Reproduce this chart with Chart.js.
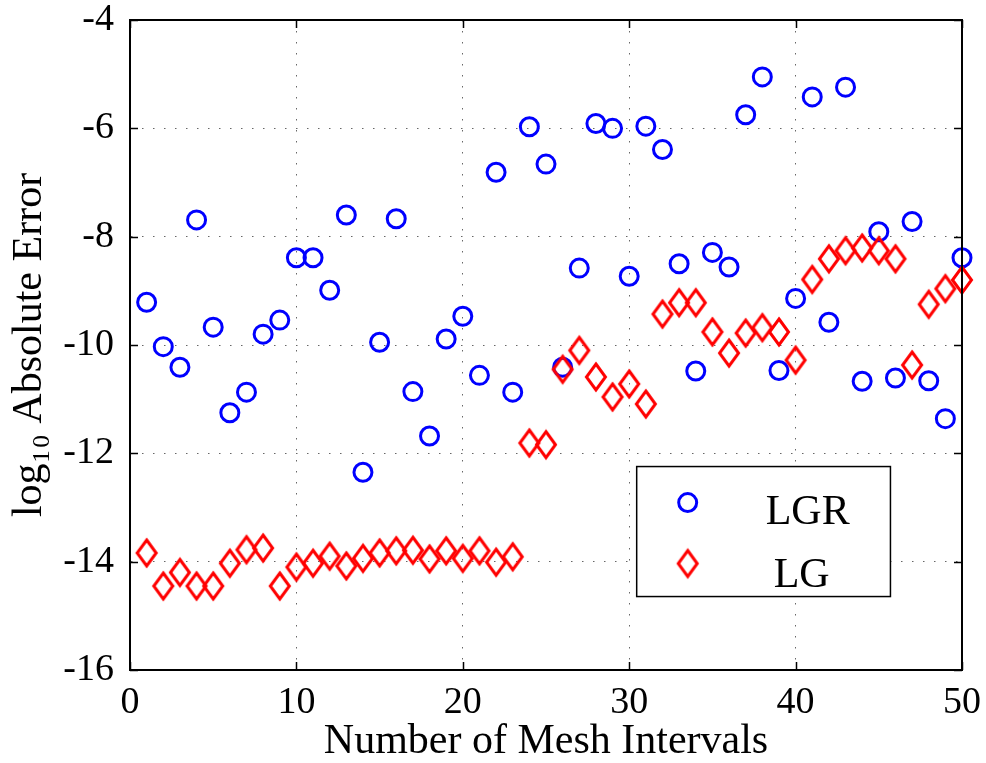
<!DOCTYPE html>
<html>
<head>
<meta charset="utf-8">
<script src="https://cdn.jsdelivr.net/npm/chart.js@4.4.1/dist/chart.umd.min.js"></script>
<style>
  html, body { margin: 0; padding: 0; background: #fff; }
  #wrap { width: 986px; height: 763px; }
</style>
</head>
<body>
<div id="wrap"><canvas id="chart" width="986" height="763"></canvas></div>
<script>
// ─── Data ─────────────────────────────────────────────────────────────────────

const meshIntervals = [
   1,  2,  3,  4,  5,  6,  7,  8,  9, 10,
  11, 12, 13, 14, 15, 16, 17, 18, 19, 20,
  21, 22, 23, 24, 25, 26, 27, 28, 29, 30,
  31, 32, 33, 34, 35, 36, 37, 38, 39, 40,
  41, 42, 43, 44, 45, 46, 47, 48, 49, 50,
];

// log10 absolute error, LGR method (blue circles)
const lgrError = [
   -9.21, -10.03, -10.41,  -7.69,  -9.67, -11.25, -10.87,  -9.80,  -9.54,  -8.39,
   -8.39,  -8.99,  -7.60, -12.35,  -9.95,  -7.67, -10.86, -11.68,  -9.89,  -9.47,
  -10.56,  -6.81, -10.87,  -5.97,  -6.66, -10.41,  -8.58,  -5.91,  -6.00,  -8.73,
   -5.96,  -6.39,  -8.50, -10.48,  -8.29,  -8.56,  -5.75,  -5.05, -10.47,  -9.14,
   -5.42,  -9.58,  -5.24, -10.67,  -7.91, -10.61,  -7.72, -10.66, -11.36,  -8.39,
];

// log10 absolute error, LG method (red diamonds)
const lgError = [
  -13.84, -14.45, -14.20, -14.45, -14.45, -14.03, -13.78, -13.75, -14.45, -14.10,
  -14.03, -13.90, -14.08, -13.94, -13.84, -13.80, -13.79, -13.95, -13.80, -13.94,
  -13.80, -14.01, -13.91, -11.81, -11.84, -10.45, -10.10, -10.59, -10.96, -10.72,
  -11.09,  -9.43,  -9.22,  -9.22,  -9.76, -10.15,  -9.78,  -9.68,  -9.76, -10.28,
   -8.79,  -8.41,  -8.26,  -8.21,  -8.26,  -8.41, -10.37,  -9.25,  -8.96,  -8.80,
];

const seriesLabels = ['LGR', 'LG'];
const xRange = [0, 50];
const xStep  = 10;
const yRange = [-16, -4];
const yStep  = 2;

// ─── Helpers ──────────────────────────────────────────────────────────────────

const FONT = "'Liberation Serif', 'Times New Roman', serif";
const BLUE = '#0000ff';
const RED  = '#ff0000';

// tall, narrow diamond like MATLAB's 'd' marker
function makeDiamond(color) {
  const c = document.createElement('canvas');
  c.width  = 28;
  c.height = 34;
  const ctx = c.getContext('2d');
  ctx.strokeStyle = color;
  ctx.lineWidth   = 3;
  ctx.lineJoin    = 'miter';
  ctx.beginPath();
  ctx.moveTo(14, 4);
  ctx.lineTo(23.5, 17);
  ctx.lineTo(14, 30);
  ctx.lineTo(4.5, 17);
  ctx.closePath();
  ctx.stroke();
  return c;
}
const diamond = makeDiamond(RED);

function toPoints(ys) {
  return meshIntervals.map((x, i) => ({ x, y: ys[i] }));
}

// scales should not reserve extra room for overhanging tick labels
function noOverhang(s) {
  s.paddingTop = 0;
  s.paddingBottom = 0;
  s.paddingLeft = 0;
  s.paddingRight = 0;
}

// ─── Plugins: axes frame with inward ticks, boxed legend ──────────────────────

const framePlugin = {
  id: 'frame',
  afterDraw(chart) {
    const { ctx, chartArea: a, scales } = chart;
    const len = 8;
    ctx.save();
    ctx.strokeStyle = '#000';
    ctx.lineWidth = 1.5;
    ctx.beginPath();
    scales.x.ticks.forEach(t => {
      const px = Math.round(scales.x.getPixelForValue(t.value)) + 0.5;
      ctx.moveTo(px, a.bottom); ctx.lineTo(px, a.bottom - len);
      ctx.moveTo(px, a.top);    ctx.lineTo(px, a.top + len);
    });
    scales.y.ticks.forEach(t => {
      const py = Math.round(scales.y.getPixelForValue(t.value)) + 0.5;
      ctx.moveTo(a.left, py);  ctx.lineTo(a.left + len, py);
      ctx.moveTo(a.right, py); ctx.lineTo(a.right - len, py);
    });
    ctx.stroke();
    ctx.lineWidth = 2;
    ctx.strokeRect(a.left, a.top, a.right - a.left, a.bottom - a.top);
    ctx.restore();
  },
};

const boxLegendPlugin = {
  id: 'boxLegend',
  afterDraw(chart) {
    const { ctx, chartArea: a } = chart;
    const w = a.right - a.left;
    const h = a.bottom - a.top;
    const bx = a.left + w * 0.609;
    const by = a.top + h * 0.687;
    const bw = w * 0.305;
    const bh = h * 0.200;
    ctx.save();
    ctx.fillStyle = '#fff';
    ctx.fillRect(bx, by, bw, bh);
    ctx.strokeStyle = '#000';
    ctx.lineWidth = 1.5;
    ctx.strokeRect(bx, by, bw, bh);

    const mx = bx + 51;
    // circle marker
    ctx.strokeStyle = BLUE;
    ctx.lineWidth = 3;
    ctx.beginPath();
    ctx.arc(mx, by + 36, 9, 0, Math.PI * 2);
    ctx.stroke();
    // diamond marker
    ctx.drawImage(diamond, mx - diamond.width / 2, by + 97 - diamond.height / 2);

    ctx.fillStyle = '#000';
    ctx.font = `42px ${FONT}`;
    ctx.textAlign = 'center';
    ctx.textBaseline = 'alphabetic';
    ctx.fillText(chart.data.datasets[1].label, bx + 171, by + 57);
    ctx.fillText(chart.data.datasets[0].label, bx + 165, by + 120);
    ctx.restore();
  },
};

// ─── Chart ────────────────────────────────────────────────────────────────────

const gridCommon = {
  color: 'rgba(0,0,0,0.6)',
  lineWidth: 1,
  drawTicks: false,
};
const borderCommon = {
  display: true,
  color: '#000',
  width: 2,
  dash: [1.5, 9.5],
};

new Chart(document.getElementById('chart'), {
  type: 'scatter',
  data: {
    datasets: [
      {
        label:           seriesLabels[1],
        data:            toPoints(lgError),
        pointStyle:      diamond,
        pointRadius:     12,
        order:           0,
        clip:            false,
      },
      {
        label:           seriesLabels[0],
        data:            toPoints(lgrError),
        pointStyle:      'circle',
        pointRadius:     9,
        borderWidth:     3,
        borderColor:     BLUE,
        backgroundColor: 'rgba(0,0,0,0)',
        order:           1,
        clip:            false,
      },
    ],
  },
  options: {
    responsive: false,
    animation:  false,
    events: [],
    layout: { padding: { top: 20, right: 24, left: 0, bottom: 0 } },
    plugins: {
      legend:  { display: false },
      tooltip: { enabled: false },
    },
    scales: {
      x: {
        type: 'linear',
        min: xRange[0],
        max: xRange[1],
        afterFit: s => { s.height = 93; noOverhang(s); },
        ticks: {
          stepSize: xStep,
          padding: 14,
          color: '#000',
          font: { family: FONT, size: 38, lineHeight: 1 },
          maxRotation: 0,
        },
        grid:   gridCommon,
        border: borderCommon,
        title: {
          display: true,
          text: 'Number of Mesh Intervals',
          color: '#000',
          font: { family: FONT, size: 42, lineHeight: 1 },
          padding: { top: 0, bottom: 0 },
        },
      },
      y: {
        type: 'linear',
        min: yRange[0],
        max: yRange[1],
        afterFit: s => { s.width = 130; noOverhang(s); },
        ticks: {
          stepSize: yStep,
          padding: 16,
          color: '#000',
          font: { family: FONT, size: 38, lineHeight: 1 },
        },
        grid:   gridCommon,
        border: borderCommon,
        title: {
          display: true,
          text: 'log\u2081\u2080 Absolute Error',
          color: '#000',
          font: { family: FONT, size: 42, lineHeight: 1 },
          padding: { top: 9, bottom: 0 },
        },
      },
    },
  },
  plugins: [framePlugin, boxLegendPlugin],
});
</script>
</body>
</html>
